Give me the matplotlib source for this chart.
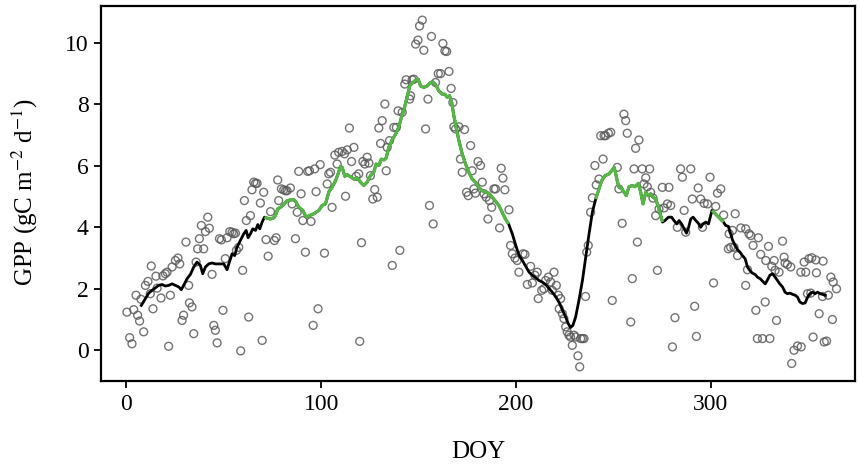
import matplotlib
matplotlib.use("Agg")
import matplotlib.pyplot as plt
import numpy as np

# observed daily GPP (scatter)
obs_doy = [0.3, 1.7, 2.9, 3.8, 5.0, 5.8, 6.8, 7.5, 8.9, 9.8, 11.1, 12.3, 12.8, 13.7, 15.2, 15.8,
           17.8, 18.8, 20.0, 20.9, 21.7, 22.6, 23.5, 25.2, 26.5, 27.4, 28.6, 29.4, 30.6, 32.0, 32.4,
           33.7, 34.6, 35.8, 36.6, 37.5, 38.5, 39.7, 40.6, 41.8, 42.6, 44.0, 44.9, 45.7, 46.6, 47.8,
           48.8, 49.6, 50.8, 51.7, 53.1, 54.3, 55.1, 56.0, 56.5, 57.7, 58.7, 59.7, 60.6, 61.6, 62.8,
           63.7, 64.5, 65.4, 66.3, 67.1, 68.8, 69.7, 70.5, 71.7, 72.8, 74.0, 76.0, 76.9, 77.7, 78.2,
           79.6, 80.8, 81.7, 82.5, 84.2, 85.1, 86.8, 87.7, 88.5, 89.7, 90.6, 91.9, 93.1, 94.0, 94.8,
           95.9, 96.7, 97.4, 98.4,
           99.5, 101.7, 103.1, 103.9, 104.8, 105.6, 107.0, 108.2, 109.0, 110.8, 112.0, 112.5, 113.4,
           114.5, 115.6, 116.8, 118.0, 119.3, 119.8, 120.7, 121.4, 122.4, 123.6, 124.5, 125.3, 126.5,
           127.5, 128.8, 129.6, 130.5, 131.3, 132.7, 133.4, 133.9, 135.1, 136.5, 137.3, 138.6, 139.5,
           140.4, 141.6, 142.9, 143.6, 145.4, 145.9, 146.7, 147.6, 148.5, 149.7, 150.5, 151.9, 152.7,
           153.6, 154.8, 155.6, 156.6, 157.5, 158.7, 160.1, 161.3, 162.5, 163.5, 164.4, 165.6, 166.7,
           167.6, 168.1, 169.0, 170.7, 171.5, 172.4, 173.6, 174.6, 175.5, 176.7, 177.5, 178.4, 179.2,
           180.5, 181.8, 182.7, 183.6, 184.7, 185.6, 186.4, 187.5, 188.7, 189.5, 191.6, 192.4, 193.3,
           194.3, 196.4, 197.2, 198.1, 199.5, 200.6, 201.5,
           203.6, 204.6, 205.8, 207.5, 208.4, 209.7, 210.9, 211.4, 213.2, 214.3, 215.2, 216.6, 217.8,
           218.6, 219.5, 220.7, 221.7, 222.9, 222.2, 223.8, 224.6, 225.5, 226.3, 227.2, 228.0, 228.9,
           229.8, 230.6, 231.8, 232.7, 233.2, 234.1, 234.9, 235.7, 236.3, 237.1, 238.3, 239.2, 240.5,
           241.2, 242.6, 243.5, 244.7, 245.2, 246.0, 247.4, 248.6, 249.4, 252.0, 252.8, 254.5, 255.4,
           256.3, 257.1, 258.9, 259.7, 260.6, 261.4, 262.3, 263.1, 264.8, 265.7, 266.6, 267.4, 268.6,
           269.1, 270.3, 271.7, 272.6, 273.4, 275.1, 276.0, 277.7, 278.5, 279.4, 280.3, 281.6, 282.8,
           284.5, 285.4, 286.3, 287.1, 289.7, 290.5, 291.7, 292.6, 293.5, 294.8, 295.7, 296.6, 298.3,
           299.6, 301.4, 302.5, 303.4,
           305.1, 306.6, 309.0, 309.4, 310.2, 311.1, 311.9, 312.5, 313.7, 315.4, 317.9, 317.9, 318.8,
           319.6, 320.5, 321.7, 323.1, 323.9, 324.4, 325.6, 326.5, 327.9, 328.2, 329.6, 330.3, 331.3,
           332.5, 333.0, 333.7, 335.0, 336.8, 337.6, 338.1, 339.3, 341.0, 341.5, 342.7, 344.5, 346.2,
           346.4, 347.9, 348.7, 349.6, 350.4, 351.3, 351.8, 352.5, 353.9, 354.2, 355.6, 357.3, 357.6,
           358.2, 359.4, 360.3, 361.6, 362.4, 362.8, 364.5]
obs_gpp = [1.24, 0.41, 0.21, 1.32, 1.79, 1.14, 0.95, 1.66, 0.60, 2.11, 2.24, 1.84, 2.74, 1.35, 2.41, 2.02,
           1.70, 2.42, 2.49, 2.54, 0.13, 1.79, 2.71, 2.92, 3.00, 2.81, 0.97, 1.14, 3.52, 2.11, 1.54,
           1.41, 0.54, 2.87, 3.30, 3.63, 4.06, 3.30, 3.86, 4.33, 3.97, 2.47, 0.81, 0.65, 0.24, 3.63,
           3.59, 1.30, 2.98, 3.66, 3.86, 3.84, 3.79, 3.81, 3.25, 3.35, -0.02, 2.60, 4.87, 4.22, 1.08,
           4.38, 5.22, 5.47, 5.43, 5.43, 4.79, 0.32, 5.14, 3.60, 3.06, 4.51, 3.57, 3.66, 5.54, 4.87,
           5.25, 5.22, 5.19, 5.19, 5.28, 4.76, 3.63, 4.49, 5.82, 5.09, 4.22, 3.19, 5.82, 5.84, 4.19,
           0.81, 5.90, 5.16, 1.35,
           6.04, 3.16, 5.41, 5.74, 5.79, 4.65, 6.35, 6.06, 6.44, 6.47, 6.39, 5.01, 6.52,
           7.23, 6.14, 6.60, 5.66, 5.74, 0.29, 3.50, 6.14, 6.06, 6.28, 6.09, 5.68, 4.92,
           5.23, 4.98, 7.23, 6.73, 7.47, 8.01, 5.84, 6.60, 6.82, 2.76, 7.25, 7.25, 7.79,
           3.25, 7.74, 8.66, 8.80, 8.17, 8.28, 8.80, 8.82, 9.96, 10.09, 10.55, 10.74, 9.76,
           7.20, 8.17, 4.71, 10.21, 4.11, 8.71, 9.00, 9.00, 9.98, 9.74, 9.72, 9.07, 8.52,
           8.06, 7.27, 7.20, 7.27, 6.22, 5.79, 7.18, 5.14, 5.03, 6.66, 5.84, 5.25, 5.11,
           6.14, 6.01, 5.47, 5.09, 4.98, 4.27, 4.87, 4.65, 5.25, 5.25, 3.98, 5.92, 5.60,
           5.22, 4.57, 3.41, 3.14, 3.00, 2.92, 2.54,
           3.14, 3.12, 2.14, 2.73, 2.19, 2.44, 2.54, 1.68, 1.95, 2.00, 2.27, 2.38, 2.22,
           1.95, 2.54, 2.11, 1.79, 1.68, 1.35, 1.19, 1.03, 0.76, 0.60, 0.49, 0.43, 0.16,
           0.49, 0.43, -0.18, -0.54, 0.38, 0.38, 0.38, 1.75, 3.19, 3.41, 4.49, 4.96, 6.01,
           5.38, 5.57, 6.98, 6.22, 6.98, 6.98, 7.06, 7.09, 1.62, 5.95, 5.25, 4.13, 7.68,
           7.47, 7.06, 0.92, 2.33, 5.90, 6.57, 3.52, 6.84, 5.90, 5.41, 5.61, 5.32, 5.90,
           5.14, 4.95, 4.38, 2.60, 4.60, 5.30, 4.63, 4.76, 5.30, 4.71, 0.11, 1.06, 4.00,
           5.90, 5.63, 4.55, 3.84, 5.90, 4.92, 1.43, 0.45, 5.28, 4.92, 4.00, 4.78, 4.76,
           5.63, 2.19, 4.68, 5.11,
           5.25, 4.40, 3.30, 3.79, 3.35, 3.90, 3.35, 4.44, 3.08, 3.98, 3.95, 2.11, 2.62,
           3.79, 3.73, 3.41, 1.30, 0.38, 3.66, 3.12, 0.38, 1.57, 2.92, 3.38, 0.38, 2.73,
           2.92, 2.60, 0.97, 2.54, 3.55, 3.03, 2.84, 2.79, 2.71, -0.43, 0.00, 0.14, 2.54,
           0.11, 2.87, 2.54, 1.84, 2.98, 1.86, 3.01, 0.43, 2.94, 2.52, 1.19, 1.75, 2.90,
           0.27, 0.30, 1.79, 2.38, 1.00, 2.22, 2.00]

# smoothed GPP curve
line_doy = [7.7, 9.8, 11.5, 13.2, 14.9, 16.6, 18.3, 20.0, 21.7, 23.5, 25.2, 26.9, 28.2, 29.4, 31.2,
            32.9, 34.6, 36.3, 38.0, 39.2, 40.6, 42.3, 44.0, 45.7, 47.4, 50.0, 51.7, 52.9, 54.3, 55.6,
            56.8, 58.5, 60.3, 61.5, 62.5, 63.7, 64.9, 66.3, 67.5, 68.5, 69.7, 70.9, 72.2, 74.0, 75.7,
            76.5, 77.7, 79.1, 80.8, 82.5, 84.2, 85.9, 87.1, 88.5, 90.6, 92.3, 94.0, 96.2, 98.8, 100.5,
            102.2, 104.0, 105.6, 107.4, 108.7, 109.9, 110.8, 112.1, 113.4, 115.0, 116.8, 118.5, 120.2,
            121.9, 123.6, 125.3, 127.0, 128.2, 129.6, 130.9, 132.2, 133.4, 134.7, 136.4, 138.2, 139.8,
            141.2, 142.4, 143.6, 144.7, 145.5, 146.7, 148.5, 149.8, 151.0, 152.7, 154.4, 156.1, 157.3,
            158.7, 160.4, 162.2, 163.5, 164.7, 165.9, 167.0, 168.1, 169.3, 170.7, 172.4, 174.1, 175.8,
            177.5, 179.2, 180.9, 182.7, 184.4, 186.1, 187.8, 189.5, 191.2, 192.9, 194.6, 196.2, 198.1,
            199.8, 201.5, 203.3, 205.0, 206.7, 208.4, 210.1, 211.8, 213.5, 215.2, 216.9, 218.6, 220.3,
            222.0, 223.8, 225.5, 226.8, 228.0, 229.2, 230.6, 232.3, 234.1, 235.8, 237.5, 239.2, 240.9,
            242.6, 244.0, 245.7, 247.8, 249.1, 250.4, 251.2, 252.1, 252.9, 254.3, 255.5, 256.6, 258.0,
            259.7, 261.1, 262.8, 264.0, 265.2, 266.6, 267.9, 269.1, 270.3, 271.7, 273.1, 274.3, 275.2,
            276.5, 278.2, 279.9, 281.1, 282.5, 283.7, 285.0, 286.3, 287.5, 288.5, 289.7, 290.9, 292.3,
            293.6, 294.8, 296.0, 297.4, 298.8, 299.9, 300.6, 306.5, 307.6, 309.0, 310.2, 311.1, 312.5,
            313.7, 315.0, 316.2, 317.6, 318.8, 320.0, 321.3, 322.7, 323.9, 325.3, 326.5, 327.9, 329.1,
            330.3, 331.7, 333.0, 334.2, 335.4, 336.8, 338.1, 339.3, 340.7, 341.9, 343.3, 344.5, 345.7,
            347.1, 348.4, 349.7, 350.8, 352.2, 353.5, 354.8, 356.0, 357.3, 358.7]
line_gpp = [1.46, 1.68, 1.86, 1.95, 2.03, 2.11, 2.14, 2.09, 2.11, 2.16, 2.11, 2.06, 1.97, 2.11, 2.33,
            2.47, 2.71, 2.87, 2.76, 2.49, 2.71, 2.81, 2.84, 2.81, 2.81, 2.81, 2.62, 2.87, 3.14, 3.08,
            3.35, 3.57, 3.79, 3.90, 3.66, 3.79, 3.95, 3.90, 4.09, 3.95, 4.17, 4.33, 4.30, 4.27, 4.31,
            4.38, 4.60, 4.65, 4.74, 4.87, 4.89, 4.90, 4.82, 4.65, 4.55, 4.33, 4.38, 4.44, 4.55, 4.71,
            4.76, 5.16, 5.30, 5.52, 5.74, 5.98, 5.95, 5.66, 5.71, 5.65, 5.57, 5.61, 5.47,
            5.36, 5.47, 5.68, 5.79, 6.06, 6.01, 6.22, 6.19, 6.26, 6.60, 6.84, 7.03, 7.25,
            7.58, 7.79, 8.12, 8.39, 8.60, 8.69, 8.79, 8.82, 8.60, 8.55, 8.60, 8.71, 8.73,
            8.64, 8.44, 8.33, 8.33, 8.23, 8.28, 8.06, 7.63, 7.25, 6.82, 6.39, 6.06, 5.79,
            5.57, 5.47, 5.30, 5.19, 5.14, 5.11, 4.98, 4.85, 4.71, 4.49, 4.27, 4.11, 3.79,
            3.43, 3.10, 2.92, 2.73, 2.54, 2.44, 2.36, 2.27, 2.22, 2.14, 2.02, 1.89, 1.75,
            1.57, 1.32, 1.08, 0.87, 0.74, 0.81, 1.08, 1.62, 2.27, 3.03, 3.79, 4.49, 4.92,
            5.25, 5.52, 5.68, 5.74, 5.84, 5.95, 5.74, 5.47, 5.30, 5.25, 5.14, 5.03, 5.32,
            5.36, 5.32, 5.43, 5.14, 4.76, 5.14, 5.03, 5.09, 4.98, 4.92, 4.65, 4.38, 4.17,
            4.22, 4.33, 4.33, 4.22, 4.11, 4.22, 4.11, 3.95, 3.81, 3.98, 4.27, 4.33, 4.22,
            4.13, 4.00, 4.11, 4.17, 4.11, 4.38, 4.55, 4.17, 4.06, 4.03, 3.79, 3.59, 3.41,
            3.27, 3.19, 3.08, 2.98, 2.71, 2.60, 2.51, 2.47, 2.38, 2.33, 2.25, 2.16, 2.29,
            2.44, 2.49, 2.38, 2.27, 2.16, 2.06, 1.89, 1.84, 1.86, 1.82, 1.79, 1.73, 1.57,
            1.52, 1.54, 1.73, 1.84, 1.89, 1.84, 1.89, 1.84, 1.82, 1.79]

# periods where the curve is drawn green
green_spans = [(70.9, 196.2), (240.9, 275.2), (300.6, 306.5)]

plt.rcParams['font.family'] = 'Liberation Serif'
plt.rcParams['mathtext.fontset'] = 'stix'

fig = plt.figure(figsize=(8.58, 4.71), dpi=100)
ax = fig.add_axes([101 / 858, 1 - 381 / 471, 754 / 858, 375 / 471])

ax.scatter(obs_doy, obs_gpp, s=32, facecolors='none', edgecolors='#5a5a5a',
           linewidths=1.0, alpha=0.85, zorder=2)

ld = np.array(line_doy)
lg = np.array(line_gpp)
ax.plot(ld, lg, color='black', linewidth=2.0, zorder=3)
for a, b in green_spans:
    m = (ld >= a) & (ld <= b)
    ax.plot(ld[m], lg[m], color='#55b845', linewidth=2.3, zorder=4,
            solid_capstyle='butt')

ax.set_xlim(-13, 374)
ax.set_ylim(-1.0, 11.2)
ax.set_xticks([0, 100, 200, 300])
ax.set_yticks([0, 2, 4, 6, 8, 10])
ax.tick_params(direction='out', length=5, width=1.3, labelsize=17, pad=4)
for sp in ax.spines.values():
    sp.set_linewidth(1.6)

fig.text(478 / 858, 1 - 452 / 471, 'DOY', ha='center', va='center', fontsize=18)
fig.text(25 / 858, 1 - 192 / 471, r'GPP (gC m$^{-2}$ d$^{-1}$)', rotation=90,
         ha='center', va='center', fontsize=18)

fig.savefig('out.png', dpi=100)
